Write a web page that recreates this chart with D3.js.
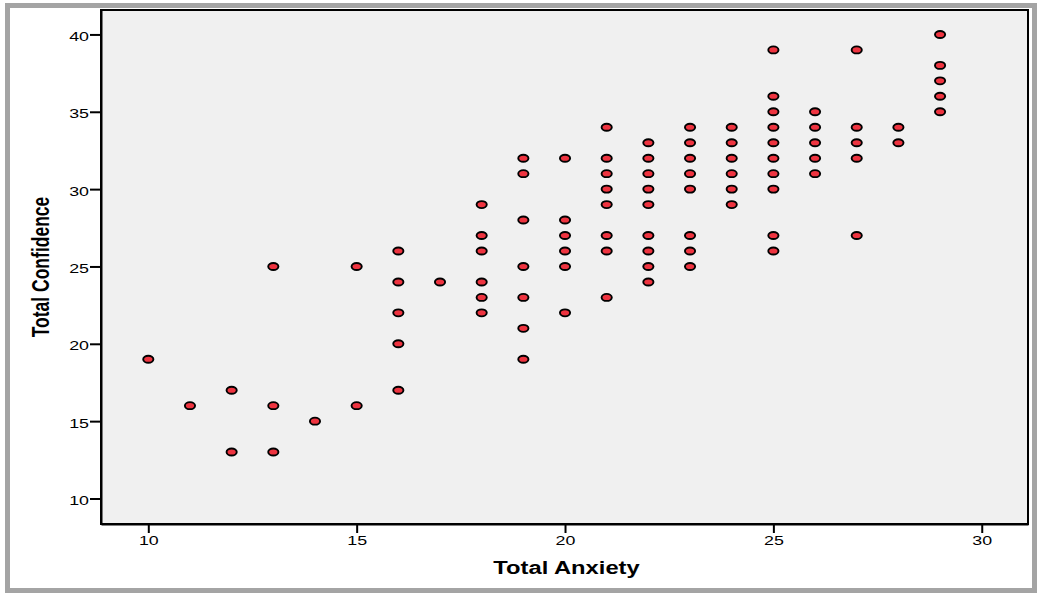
<!DOCTYPE html>
<html>
<head>
<meta charset="utf-8">
<script src="https://cdn.jsdelivr.net/npm/d3@7"></script>
<style>
  html, body { margin: 0; padding: 0; background: #fff; }
  svg { display: block; }
  text { font-family: "Liberation Sans", Arial, sans-serif; fill: #000; }
</style>
</head>
<body>
<svg id="chart" width="1037" height="594"></svg>
<script>
// Total Anxiety score (x) and the Total Confidence scores observed at that value (y)
const anxietyLevels = [10, 11, 12, 13, 14, 15, 16, 17, 18, 19, 20, 21, 22, 23, 24, 25, 26, 27, 28, 29];
const confidenceByAnxiety = [
  [19],
  [16],
  [17, 13],
  [25, 16, 13],
  [15],
  [25, 16],
  [26, 24, 22, 20, 17],
  [24],
  [29, 27, 26, 24, 23, 22],
  [32, 31, 28, 25, 23, 21, 19],
  [32, 28, 27, 26, 25, 22],
  [34, 32, 31, 30, 29, 27, 26, 23],
  [33, 32, 31, 30, 29, 27, 26, 25, 24],
  [34, 33, 32, 31, 30, 27, 26, 25],
  [34, 33, 32, 31, 30, 29],
  [39, 36, 35, 34, 33, 32, 31, 30, 27, 26],
  [35, 34, 33, 32, 31],
  [39, 34, 33, 32, 27],
  [34, 33],
  [40, 38, 37, 36, 35]
];
const xTicks = [10, 15, 20, 25, 30];
const yTicks = [10, 15, 20, 25, 30, 35, 40];
const xTitle = "Total Anxiety";
const yTitle = "Total Confidence";

const points = anxietyLevels.flatMap((a, i) => confidenceByAnxiety[i].map(c => ({ a, c })));

const svg = d3.select("#chart");
const stretch = 1.32; // horizontal text stretch used throughout the figure

// outer frame
svg.append("rect")
  .attr("x", 7.5).attr("y", 5.5).attr("width", 1027).attr("height", 585)
  .attr("fill", "#fff").attr("stroke", "#a4a4a4").attr("stroke-width", 5);

const plot = { left: 101, top: 10, right: 1028, bottom: 524 };

const x = d3.scaleLinear().domain([8.865, 31.11]).range([plot.left, plot.right]);
const y = d3.scaleLinear().domain([8.35, 41.58]).range([plot.bottom, plot.top]);

// plot background
svg.append("rect")
  .attr("x", plot.left).attr("y", plot.top)
  .attr("width", plot.right - plot.left).attr("height", plot.bottom - plot.top)
  .attr("fill", "#f0f0f0").attr("stroke", "#000").attr("stroke-width", 2);

// axes
const xAxis = svg.append("g")
  .attr("transform", `translate(0,${plot.bottom})`)
  .call(d3.axisBottom(x).tickValues(xTicks).tickSizeInner(9).tickSizeOuter(0)
    .tickPadding(3).tickFormat(d3.format("d")));
const yAxis = svg.append("g")
  .attr("transform", `translate(${plot.left},0)`)
  .call(d3.axisLeft(y).tickValues(yTicks).tickSizeInner(11).tickSizeOuter(0)
    .tickPadding(1).tickFormat(d3.format("d")));

[xAxis, yAxis].forEach(g => {
  g.select(".domain").attr("stroke", "#000").attr("stroke-width", 2);
  g.selectAll(".tick line").attr("stroke", "#000").attr("stroke-width", 2);
  g.selectAll(".tick text")
    .style("font-family", "'Liberation Sans', Arial, sans-serif")
    .style("font-size", "13.5px")
    .attr("fill", "#000");
});
xAxis.selectAll(".tick text").attr("dy", null).attr("y", 21)
  .attr("transform", `scale(${stretch},1)`);
yAxis.selectAll(".tick text").each(function () {
  const t = d3.select(this);
  const x0 = +t.attr("x");
  t.attr("x", x0 / stretch).attr("dy", null).attr("y", 6)
   .attr("transform", `scale(${stretch},1)`);
});

// points
svg.append("g")
  .selectAll("ellipse")
  .data(points)
  .join("ellipse")
  .attr("cx", d => x(d.a))
  .attr("cy", d => y(d.c))
  .attr("rx", 5.1)
  .attr("ry", 3.5)
  .attr("fill", "#ee3440")
  .attr("stroke", "#000")
  .attr("stroke-width", 1.9);

// axis titles
svg.append("text")
  .attr("transform", `translate(${(plot.left + plot.right) / 2 + 2},574) scale(${stretch},1)`)
  .attr("text-anchor", "middle")
  .style("font-size", "18px").style("font-weight", "bold")
  .text(xTitle);

svg.append("text")
  .attr("transform", `translate(49,267) scale(${stretch},1) rotate(-90)`)
  .attr("text-anchor", "middle")
  .style("font-size", "17.5px").style("font-weight", "bold")
  .text(yTitle);
</script>
</body>
</html>
